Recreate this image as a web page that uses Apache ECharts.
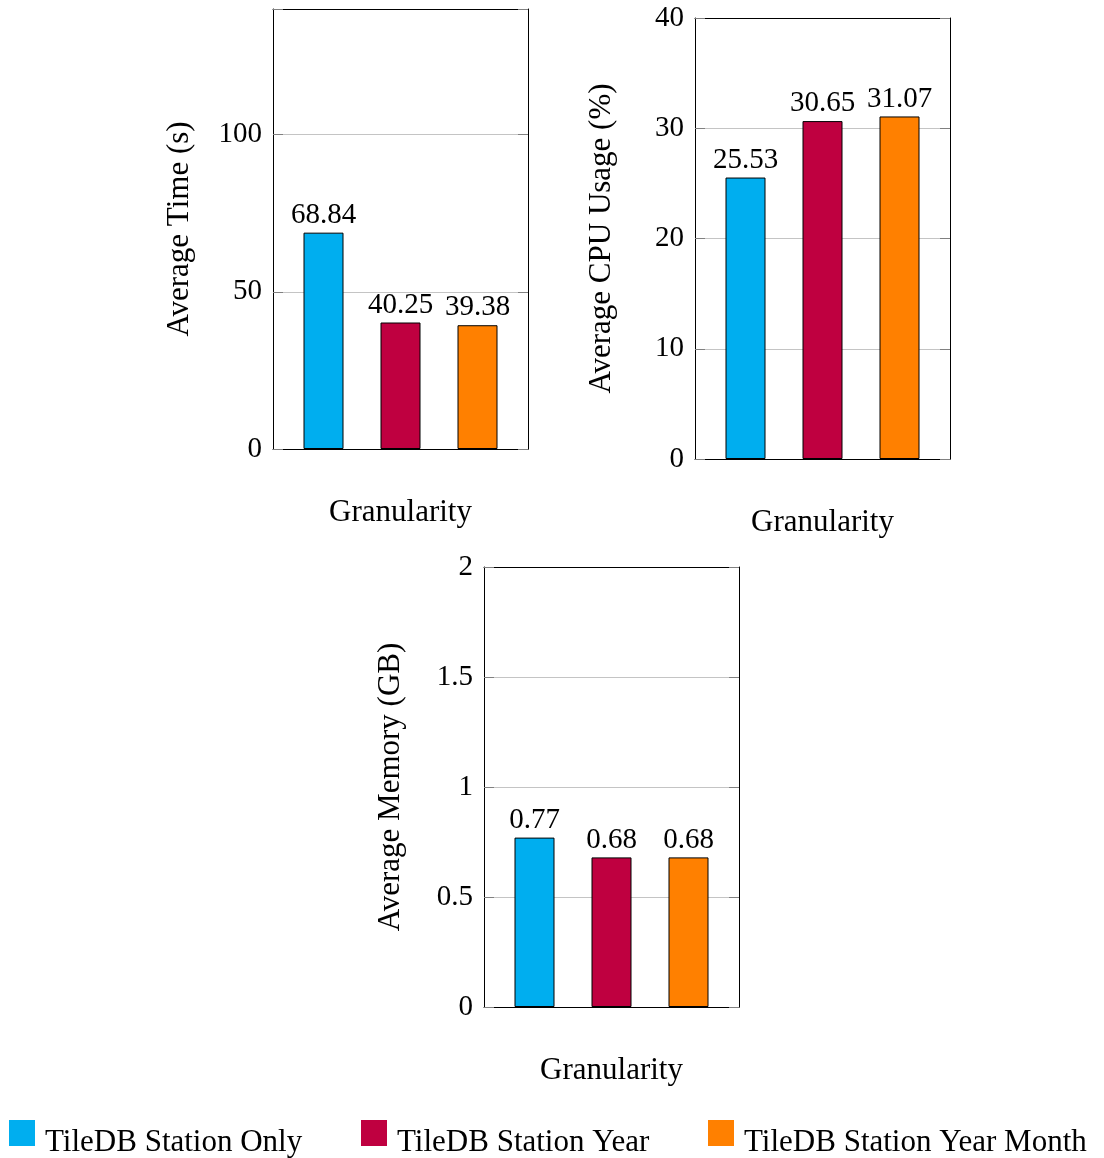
<!DOCTYPE html>
<html>
<head>
<meta charset="utf-8">
<title>TileDB granularity benchmark</title>
<script src="https://cdn.jsdelivr.net/npm/echarts@6/dist/echarts.min.js"></script>
<style>
  html, body { margin: 0; padding: 0; background: #fff; }
  #chart { width: 1104px; height: 1158px; }
</style>
</head>
<body>
<div id="chart"></div>
<script>
// Storage layouts compared in each panel
const seriesNames = ['TileDB Station Only', 'TileDB Station Year', 'TileDB Station Year Month'];
const seriesColors = ['#00aeef', '#bf0040', '#ff8000'];

// Measured averages per layout
const timeValues = [68.84, 40.25, 39.38];   // seconds
const cpuValues = [25.53, 30.65, 31.07];    // percent
const memoryValues = [0.77, 0.68, 0.68];    // GB

// Axis titles and scales for the three panels
const yAxisNames = ['Average Time (s)', 'Average CPU Usage (%)', 'Average Memory (GB)'];
const xAxisName = 'Granularity';
const yMax = [140, 40, 2];
const yInterval = [50, 10, 0.5];

const panelValues = [timeValues, cpuValues, memoryValues];

// Plot rectangles of the three panels
const grids = [
  { left: 273, top: 9, width: 255, height: 440 },
  { left: 695, top: 18, width: 255, height: 441 },
  { left: 484, top: 567, width: 255, height: 440 }
];

const FONT = '"Liberation Serif", "Times New Roman", serif';
const frameLine = { show: true, onZero: false, lineStyle: { color: '#000', width: 1 } };
const innerTick = { show: true, inside: true, length: 10, lineStyle: { color: '#808080', width: 1 } };

const xAxes = [];
const yAxes = [];
const series = [];

grids.forEach((g, i) => {
  // bottom axis carries the title, top axis closes the frame
  xAxes.push({
    type: 'category', gridIndex: i, data: [''], position: 'bottom',
    axisLine: frameLine, axisTick: { show: false }, axisLabel: { show: false },
    name: xAxisName, nameLocation: 'middle', nameGap: 48,
    nameTextStyle: { fontFamily: FONT, fontSize: 31, color: '#000' }
  });
  xAxes.push({
    type: 'category', gridIndex: i, data: [''], position: 'top',
    axisLine: frameLine, axisTick: { show: false }, axisLabel: { show: false }
  });
  const step = yInterval[i];
  yAxes.push({
    type: 'value', gridIndex: i, position: 'left', min: 0, max: yMax[i], interval: step,
    axisLine: frameLine, axisTick: innerTick,
    axisLabel: {
      fontFamily: FONT, fontSize: 29, color: '#000', margin: 11,
      padding: [4, 0, 0, 0],
      formatter: v => (Math.abs(v / step - Math.round(v / step)) < 1e-9 ? String(v) : '')
    },
    splitLine: { show: true, showMinLine: false, showMaxLine: false, lineStyle: { color: '#c4c4c4', width: 1 } },
    name: yAxisNames[i], nameLocation: 'middle', nameGap: 78,
    nameTextStyle: { fontFamily: FONT, fontSize: 31, color: '#000' }
  });
  yAxes.push({
    type: 'value', gridIndex: i, position: 'right', min: 0, max: yMax[i], interval: step,
    axisLine: frameLine, axisTick: innerTick, axisLabel: { show: false }, splitLine: { show: false }
  });

  seriesNames.forEach((name, j) => {
    series.push({
      type: 'bar', name: name,
      xAxisIndex: 2 * i, yAxisIndex: 2 * i,
      data: [panelValues[i][j]],
      barWidth: 40, barGap: '92.5%',
      itemStyle: { color: seriesColors[j], borderColor: '#000', borderWidth: 1 },
      label: {
        show: true, position: 'top', distance: 3,
        fontFamily: FONT, fontSize: 29, color: '#000',
        formatter: p => p.value.toFixed(2)
      }
    });
  });
});

// One legend entry per layout, spread along the bottom row
const legendLeft = [9, 361, 708];
const legends = seriesNames.map((name, j) => ({
  data: [name], left: legendLeft[j], top: 1120, padding: 0,
  icon: 'rect', itemWidth: 26, itemHeight: 26,
  itemStyle: { borderWidth: 0 },
  formatter: '{t|{name}}',
  textStyle: {
    color: '#000',
    rich: { t: { fontFamily: FONT, fontSize: 31, color: '#000', padding: [19, 0, 0, 5] } }
  }
}));

const chart = echarts.init(document.getElementById('chart'), null, { renderer: 'canvas' });
chart.setOption({
  animation: false,
  backgroundColor: '#fff',
  grid: grids,
  xAxis: xAxes,
  yAxis: yAxes,
  legend: legends,
  series: series
});
</script>
</body>
</html>
